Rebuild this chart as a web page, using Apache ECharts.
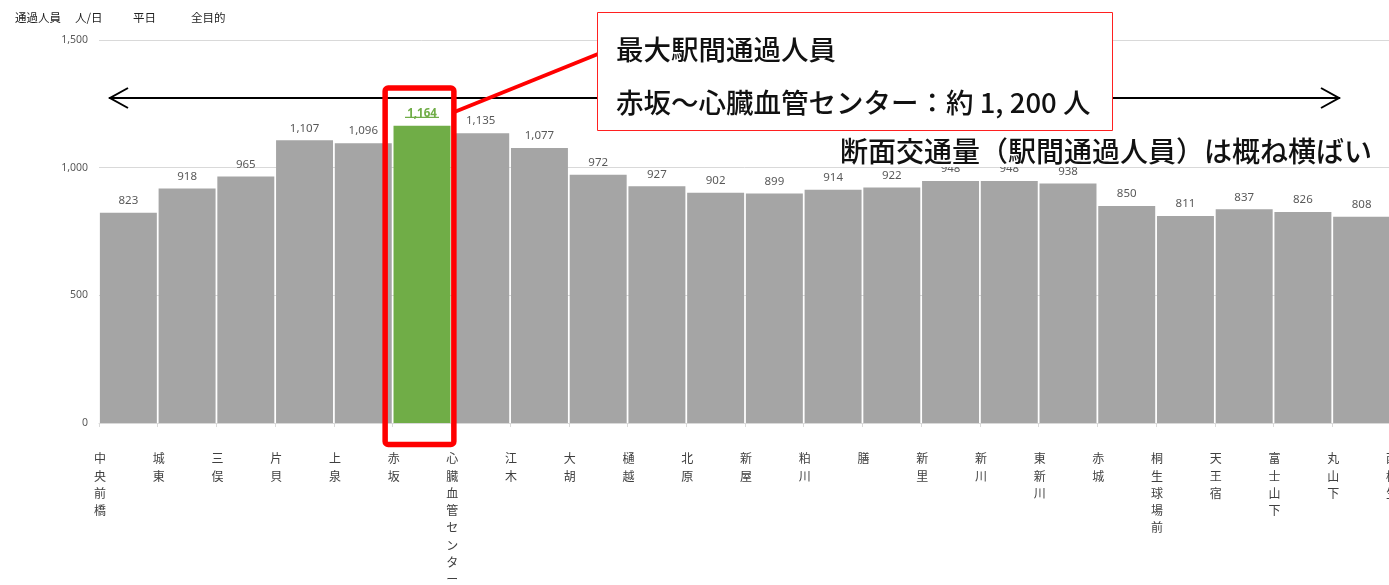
<!DOCTYPE html>
<html>
<head>
<meta charset="utf-8">
<script src="https://cdn.jsdelivr.net/npm/echarts@6/dist/echarts.min.js"></script>
<style>
  html, body { margin: 0; padding: 0; background: #fff; }
  #chart { width: 1389px; height: 585px; }
</style>
</head>
<body>
<div id="chart"></div>
<script>
// 上毛線 駅間通過人員（人/日, 平日, 全目的）
const stations = [
  '中央前橋', '城東', '三俣', '片貝', '上泉', '赤坂', '心臓血管センター', '江木',
  '大胡', '樋越', '北原', '新屋', '粕川', '膳', '新里', '新川', '東新川', '赤城',
  '桐生球場前', '天王宿', '富士山下', '丸山下', '西桐生'
];
// 駅間ごとの通過人員（区間 i = stations[i]〜stations[i+1]）
const passengers = [
  823, 918, 965, 1107, 1096, 1164, 1135, 1077, 972, 927, 902,
  899, 914, 922, 948, 948, 938, 850, 811, 837, 826, 808
];
const yTicks = [0, 500, 1000, 1500];
const peakIndex = 5;

const segments = passengers.map((_, i) => stations[i] + '〜' + stations[i + 1]);
const fmt = v => v.toLocaleString('en-US');

const GRAY = '#A5A5A5';
const GREEN = '#70AD47';
const FONT = '"Noto Sans CJK JP", "Noto Sans", sans-serif';

const chart = echarts.init(document.getElementById('chart'), null, { renderer: 'canvas' });

chart.setOption({
  animation: false,
  backgroundColor: '#fff',
  textStyle: { fontFamily: FONT },
  grid: { left: 99, right: -2, top: 40, bottom: 162, containLabel: false, outerBoundsMode: 'none' },
  xAxis: [
    {
      type: 'category',
      data: segments,
      boundaryGap: true,
      axisLine: { show: false },
      axisTick: { show: false },
      axisLabel: { show: false }
    },
    {
      type: 'category',
      data: stations,
      boundaryGap: false,
      position: 'bottom',
      axisLine: { show: true, lineStyle: { color: '#D9D9D9', width: 1 } },
      axisTick: { show: true, length: 4, interval: 0, lineStyle: { color: '#D9D9D9' } },
      axisLabel: {
        interval: 0,
        showMinLabel: true,
        showMaxLabel: true,
        hideOverlap: false,
        margin: 27,
        fontSize: 12,
        lineHeight: 17.3,
        color: '#404040',
        fontFamily: FONT,
        padding: [0, 0, 0, 2],
        formatter: v => v.split('').join('\n')
      }
    }
  ],
  yAxis: {
    type: 'value',
    min: yTicks[0],
    max: yTicks[yTicks.length - 1],
    interval: yTicks[1] - yTicks[0],
    axisLine: { show: false },
    axisTick: { show: false },
    splitLine: { lineStyle: { color: '#D9D9D9', width: 1 } },
    axisLabel: {
      margin: 11,
      fontSize: 10.5,
      color: '#595959',
      fontFamily: '"Noto Sans", sans-serif',
      formatter: v => fmt(v)
    }
  },
  series: [{
    type: 'bar',
    xAxisIndex: 0,
    barCategoryGap: '3%',
    itemStyle: { color: GRAY },
    label: {
      show: true,
      position: 'top',
      distance: 6,
      fontSize: 11.5,
      color: '#595959',
      fontFamily: '"Noto Sans", sans-serif',
      formatter: p => fmt(p.value)
    },
    data: passengers.map((v, i) => i === peakIndex
      ? { value: v, itemStyle: { color: GREEN }, label: { color: GREEN, fontWeight: 'bold' } }
      : v)
  }]
});

// 注記（最大区間の強調・吹き出し・横ばいの矢印）
const peakLeft = chart.convertToPixel({ xAxisIndex: 1 }, stations[peakIndex]);
const peakRight = chart.convertToPixel({ xAxisIndex: 1 }, stations[peakIndex + 1]);
const peakTop = chart.convertToPixel({ yAxisIndex: 0 }, passengers[peakIndex]);
const peakMid = (peakLeft + peakRight) / 2;

chart.setOption({
  graphic: [
    // 見出し
    { type: 'text', left: 15, top: 12, style: { text: '通過人員', font: '11.5px ' + FONT, fill: '#222' } },
    { type: 'text', left: 75, top: 12, style: { text: '人/日', font: '11.5px ' + FONT, fill: '#222' } },
    { type: 'text', left: 133, top: 12, style: { text: '平日', font: '11.5px ' + FONT, fill: '#222' } },
    { type: 'text', left: 191, top: 12, style: { text: '全目的', font: '11.5px ' + FONT, fill: '#222' } },
    // 最大値ラベルの下線
    {
      type: 'line', z: 50,
      shape: { x1: peakMid - 17, y1: peakTop - 8.5, x2: peakMid + 17, y2: peakTop - 8.5 },
      style: { stroke: GREEN, lineWidth: 1.2 }
    },
    // 横ばいを示す両矢印
    {
      type: 'line', z: 60,
      shape: { x1: 109, y1: 98, x2: 1340, y2: 98 },
      style: { stroke: '#000', lineWidth: 2 }
    },
    {
      type: 'polyline', z: 60,
      shape: { points: [[128, 88], [110, 98], [128, 108]] },
      style: { stroke: '#000', lineWidth: 2, fill: null }
    },
    {
      type: 'polyline', z: 60,
      shape: { points: [[1321, 88], [1339, 98], [1321, 108]] },
      style: { stroke: '#000', lineWidth: 2, fill: null }
    },
    // 最大区間の赤枠
    {
      type: 'rect', z: 70,
      shape: { x: peakLeft - 7.5, y: 88, width: (peakRight + 2.5) - (peakLeft - 7.5), height: 356.5, r: 3 },
      style: { stroke: '#FF0000', lineWidth: 5.5, fill: null }
    },
    // 吹き出しの引き出し線
    {
      type: 'line', z: 70,
      shape: { x1: peakRight + 3, y1: 112, x2: 598, y2: 54 },
      style: { stroke: '#FF0000', lineWidth: 4 }
    },
    // 吹き出し
    {
      type: 'rect', z: 80,
      shape: { x: 597.5, y: 12.5, width: 515, height: 118 },
      style: { stroke: '#FF2020', lineWidth: 1, fill: '#fff' }
    },
    {
      type: 'text', z: 81, left: 616, top: 36,
      style: { text: '最大駅間通過人員', font: '500 27.5px ' + FONT, fill: '#111' }
    },
    {
      type: 'text', z: 81, left: 616, top: 89,
      style: { text: '赤坂〜心臓血管センター：約 1, 200 人', font: '500 27.5px ' + FONT, fill: '#111' }
    },
    // 傾向の説明
    {
      type: 'text', z: 80, left: 838, top: 136,
      style: {
        text: '断面交通量（駅間通過人員）は概ね横ばい',
        font: '500 28px ' + FONT, fill: '#111',
        backgroundColor: '#fff', padding: [0, 20, 0, 2], lineHeight: 31
      }
    }
  ]
});
</script>
</body>
</html>
